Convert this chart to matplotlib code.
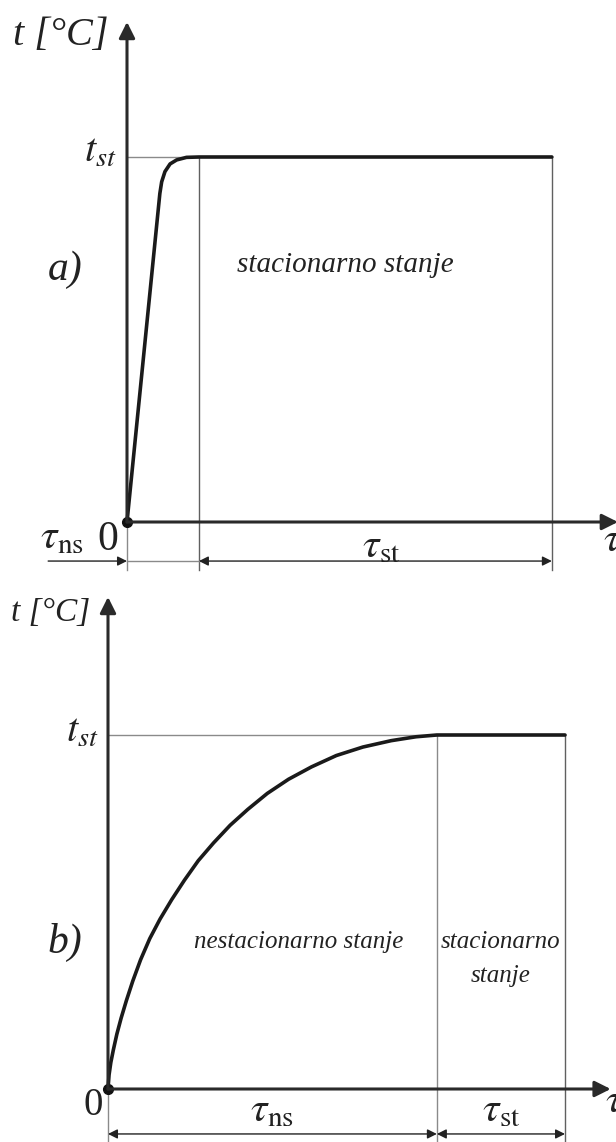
import matplotlib
matplotlib.use('Agg')
import matplotlib.pyplot as plt

plt.rcParams['font.family'] = ['Liberation Serif', 'DejaVu Serif']
plt.rcParams['mathtext.fontset'] = 'stix'

W, H = 616, 1142

# panel a) - quick transient, then steady state (t in % of t_st, tau in arbitrary units)
tau_a = [0, 9.0, 9.5, 10.4, 11.8, 13.6, 16.3, 19.7, 116.4]
t_a = [0, 90.0, 93.2, 96.0, 98.1, 99.2, 99.9, 100, 100]
tau_ns_a, tau_end_a = 19.7, 116.4

# panel b) - slow transient approach to t_st
tau_b = [0, 0.3, 0.8, 1.5, 2.5, 3.7, 5.2, 7.0, 9.2, 11.8, 14.7, 18.0, 21.6, 25.5,
         29.8, 34.5, 39.5, 45.0, 51.0, 57.5, 64.5, 72.0, 80.0, 87.0, 92.9, 129.1]
t_b = [0, 4.0, 7.5, 11.0, 15.5, 20.0, 25.0, 30.5, 36.5, 42.5, 48.0, 53.5, 59.0, 64.5,
       69.5, 74.5, 79.0, 83.5, 87.5, 91.0, 94.2, 96.6, 98.4, 99.5, 100, 100]
tau_ns_b, tau_end_b = 92.9, 129.1
t_st = 100

CURVE = '#1a1a1a'
AXIS = '#2a2a2a'
TEXT = '#222222'
GRID = '#8a8a8a'
GRID_DARK = '#606060'

fig = plt.figure(figsize=(W / 100, H / 100), dpi=100)
fig.patch.set_facecolor('white')


def make_panel(top, bottom, ox, oy, s):
    # axes spanning full width, data units scaled s px per unit, origin at (ox, oy) px
    ax = fig.add_axes([0, 1 - bottom / H, 1, (bottom - top) / H])
    ax.set_xlim(-ox / s, (W - ox) / s)
    ax.set_ylim((oy - bottom) / s, (oy - top) / s)
    ax.axis('off')
    return ax


def axis_arrow(ax, x0, y0, x1, y1):
    ax.annotate('', xy=(x1, y1), xytext=(x0, y0),
                arrowprops=dict(arrowstyle='-|>', color=AXIS, lw=2.2,
                                mutation_scale=24, shrinkA=0, shrinkB=0),
                annotation_clip=False)


def dim_arrow(ax, x0, x1, y, style='<|-|>'):
    ax.annotate('', xy=(x1, y), xytext=(x0, y),
                arrowprops=dict(arrowstyle=style, color='#222222', lw=1.0,
                                mutation_scale=14, shrinkA=0, shrinkB=0),
                annotation_clip=False)


# ---------------- a) ----------------
ax = make_panel(0, 580, 127, 522, 3.65)
ax.plot([0, tau_ns_a], [t_st, t_st], color=GRID, lw=1.0)
ax.plot([tau_ns_a, tau_ns_a], [t_st, -13.2], color=GRID_DARK, lw=1.0)
ax.plot([tau_end_a, tau_end_a], [t_st, -13.2], color=GRID_DARK, lw=1.0)
ax.plot([0, 0], [0, -13.2], color=GRID, lw=1.0)
axis_arrow(ax, 0, 0, 0, 137)
axis_arrow(ax, 0, 0, 134.5, 0)
ax.plot(tau_a, t_a, color=CURVE, lw=2.6, solid_capstyle='round', solid_joinstyle='round')
ax.plot(0, 0, 'o', color='#111111', ms=7, clip_on=False)

dim_arrow(ax, -21.6, 0, -10.7, style='-|>')
ax.plot([0, tau_ns_a], [-10.7, -10.7], color=GRID, lw=1.0)
dim_arrow(ax, tau_ns_a, tau_end_a, -10.7)

ax.text(-5.2, 133.4, 't [°C]', style='italic', fontsize=29, ha='right', va='center', color=TEXT)
ax.text(-3.0, 101.4, r'$t_{st}$', fontsize=29, ha='right', va='center', color=TEXT)
ax.text(-17, 69, 'a)', style='italic', fontsize=30, ha='center', va='center', color=TEXT)
ax.text(59.7, 70.4, 'stacionarno stanje', style='italic', fontsize=21, ha='center', va='center', color=TEXT)
ax.text(-17.8, -4.4, r'$\tau_{\rm ns}$', fontsize=30, ha='center', va='center', color=TEXT)
ax.text(-5.2, -5.0, '0', fontsize=30, ha='center', va='center', color=TEXT)
ax.text(69.6, -6.8, r'$\tau_{\rm st}$', fontsize=30, ha='center', va='center', color=TEXT)
ax.text(130.4, -5.2, r'$\tau$', fontsize=30, ha='left', va='center', color=TEXT)

# ---------------- b) ----------------
ax = make_panel(580, H, 108, 1089, 3.54)
ax.plot([0, tau_ns_b], [t_st, t_st], color=GRID, lw=1.0)
ax.plot([tau_ns_b, tau_ns_b], [t_st, -16], color=GRID, lw=1.0)
ax.plot([tau_end_b, tau_end_b], [t_st, -16], color=GRID_DARK, lw=1.0)
ax.plot([0, 0], [0, -16], color=GRID, lw=1.0)
axis_arrow(ax, 0, 0, 0, 139)
axis_arrow(ax, 0, 0, 142, 0)
ax.plot(tau_b, t_b, color=CURVE, lw=2.6, solid_capstyle='round', solid_joinstyle='round')
ax.plot(0, 0, 'o', color='#111111', ms=7, clip_on=False)

dim_arrow(ax, 0, tau_ns_b, -12.7)
dim_arrow(ax, tau_ns_b, tau_end_b, -12.7)

ax.text(-5.1, 134.5, 't [°C]', style='italic', fontsize=24, ha='right', va='center', color=TEXT)
ax.text(-2.8, 100.8, r'$t_{st}$', fontsize=29, ha='right', va='center', color=TEXT)
ax.text(-12.1, 41.5, 'b)', style='italic', fontsize=30, ha='center', va='center', color=TEXT)
ax.text(54, 41.5, 'nestacionarno stanje', style='italic', fontsize=18, ha='center', va='center', color=TEXT)
ax.text(111, 41.5, 'stacionarno', style='italic', fontsize=18, ha='center', va='center', color=TEXT)
ax.text(111, 32.0, 'stanje', style='italic', fontsize=18, ha='center', va='center', color=TEXT)
ax.text(-4.1, -4.8, '0', fontsize=28, ha='center', va='center', color=TEXT)
ax.text(46.3, -6.3, r'$\tau_{\rm ns}$', fontsize=30, ha='center', va='center', color=TEXT)
ax.text(111, -6.3, r'$\tau_{\rm st}$', fontsize=30, ha='center', va='center', color=TEXT)
ax.text(140.5, -3.5, r'$\tau$', fontsize=30, ha='left', va='center', color=TEXT)

fig.savefig('out.png', dpi=100)
